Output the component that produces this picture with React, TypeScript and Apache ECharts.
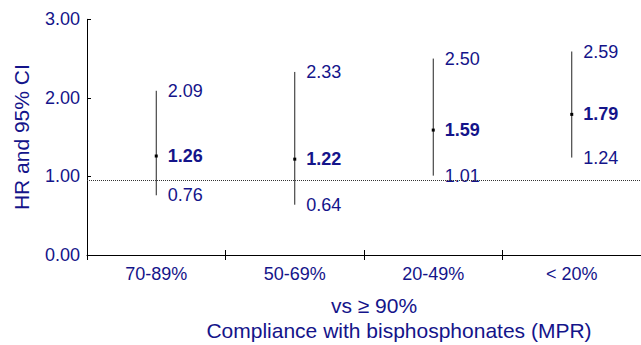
import React, { useEffect, useRef } from "react";
import * as echarts from "echarts";

const categories = ["70-89%", "50-69%", "20-49%", "< 20%"];
const hrValues = [1.26, 1.22, 1.59, 1.79];
const lowerCI = [0.76, 0.64, 1.01, 1.24];
const upperCI = [2.09, 2.33, 2.5, 2.59];
const yTicks = [0, 1, 2, 3];
const referenceLine = 0.955;
const yAxisTitle = "HR and 95% CI";
const subTitle = "vs \u2265 90%";
const xAxisTitle = "Compliance with bisphosphonates (MPR)";

const NAVY = "#14148a";
const FONT = "'Liberation Sans', Arial, Helvetica, sans-serif";

export default function App() {
  const ref = useRef<HTMLDivElement>(null);

  useEffect(() => {
    if (!ref.current) return;
    const chart = echarts.init(ref.current, undefined, { renderer: "svg" });
    const fmt = (p: any) => Number(p.value[1]).toFixed(2);
    const labelBase = {
      show: true,
      position: "right",
      color: NAVY,
      opacity: 1,
      fontSize: 18,
      fontFamily: FONT,
      formatter: fmt,
    };
    const option: any = {
      animation: false,
      backgroundColor: "#ffffff",
      textStyle: { fontFamily: FONT },
      grid: { left: 87, top: 19.3, width: 556, height: 235.7, containLabel: false },
      xAxis: [
        {
          type: "category",
          data: categories,
          boundaryGap: true,
          axisLine: { show: true, lineStyle: { color: "#000", width: 1 } },
          axisTick: { show: true, inside: true, length: 5, lineStyle: { color: "#000" } },
          axisLabel: { color: NAVY, fontSize: 18, fontFamily: FONT, margin: 10 },
          splitLine: { show: false },
        },
        {
          type: "category",
          data: categories,
          position: "bottom",
          boundaryGap: true,
          axisLine: { show: false },
          axisTick: { show: true, inside: false, length: 5, lineStyle: { color: "#000" } },
          axisLabel: { show: false },
          splitLine: { show: false },
        },
      ],
      yAxis: {
        type: "value",
        min: yTicks[0],
        max: yTicks[yTicks.length - 1],
        interval: 1,
        name: yAxisTitle,
        nameLocation: "middle",
        nameGap: 55,
        nameTextStyle: { color: NAVY, fontSize: 21, fontFamily: FONT },
        axisLine: { show: true, lineStyle: { color: "#000", width: 1 } },
        axisTick: { show: true, inside: true, length: 4, lineStyle: { color: "#000" } },
        axisLabel: {
          color: NAVY,
          fontSize: 18,
          fontFamily: FONT,
          margin: 7,
          formatter: (v: number) => v.toFixed(2),
        },
        splitLine: { show: false },
      },
      series: [
        {
          type: "custom",
          name: "CI",
          xAxisIndex: 0,
          data: categories.map((_, i) => [i, lowerCI[i], upperCI[i]]),
          renderItem: (params: any, api: any) => {
            const lo = api.coord([api.value(0), api.value(1)]);
            const hi = api.coord([api.value(0), api.value(2)]);
            return {
              type: "line",
              shape: { x1: lo[0], y1: lo[1], x2: hi[0], y2: hi[1] },
              style: { stroke: "#222", lineWidth: 1 },
            };
          },
          markLine: {
            silent: true,
            symbol: ["none", "none"],
            label: { show: false },
            lineStyle: { color: "#333", width: 1, type: [1, 1] },
            data: [{ yAxis: referenceLine }],
          },
          z: 2,
        },
        {
          type: "scatter",
          name: "HR",
          symbol: "rect",
          symbolSize: [3, 3],
          itemStyle: { color: "#000", opacity: 1 },
          data: categories.map((_, i) => [i, hrValues[i]]),
          label: { ...labelBase, distance: 10, fontWeight: "bold" },
          z: 3,
        },
        {
          type: "scatter",
          name: "Upper",
          symbolSize: 1,
          itemStyle: { color: "rgba(0,0,0,0)", opacity: 1 },
          data: categories.map((_, i) => [i, upperCI[i]]),
          label: { ...labelBase, distance: 11 },
          z: 3,
        },
        {
          type: "scatter",
          name: "Lower",
          symbolSize: 1,
          itemStyle: { color: "rgba(0,0,0,0)", opacity: 1 },
          data: categories.map((_, i) => [i, lowerCI[i]]),
          label: { ...labelBase, distance: 11 },
          z: 3,
        },
      ],
      graphic: [
        {
          type: "text",
          x: 374,
          y: 305,
          style: {
            text: subTitle,
            fill: NAVY,
            font: `21px ${FONT}`,
            align: "center",
            verticalAlign: "middle",
          },
        },
        {
          type: "text",
          x: 399,
          y: 330,
          style: {
            text: xAxisTitle,
            fill: NAVY,
            font: `21px ${FONT}`,
            align: "center",
            verticalAlign: "middle",
          },
        },
      ],
    };
    chart.setOption(option);
    return () => chart.dispose();
  }, []);

  return (
    <div
      ref={ref}
      style={{ position: "fixed", left: 0, top: 0, width: 641, height: 345, background: "#fff" }}
    />
  );
}
